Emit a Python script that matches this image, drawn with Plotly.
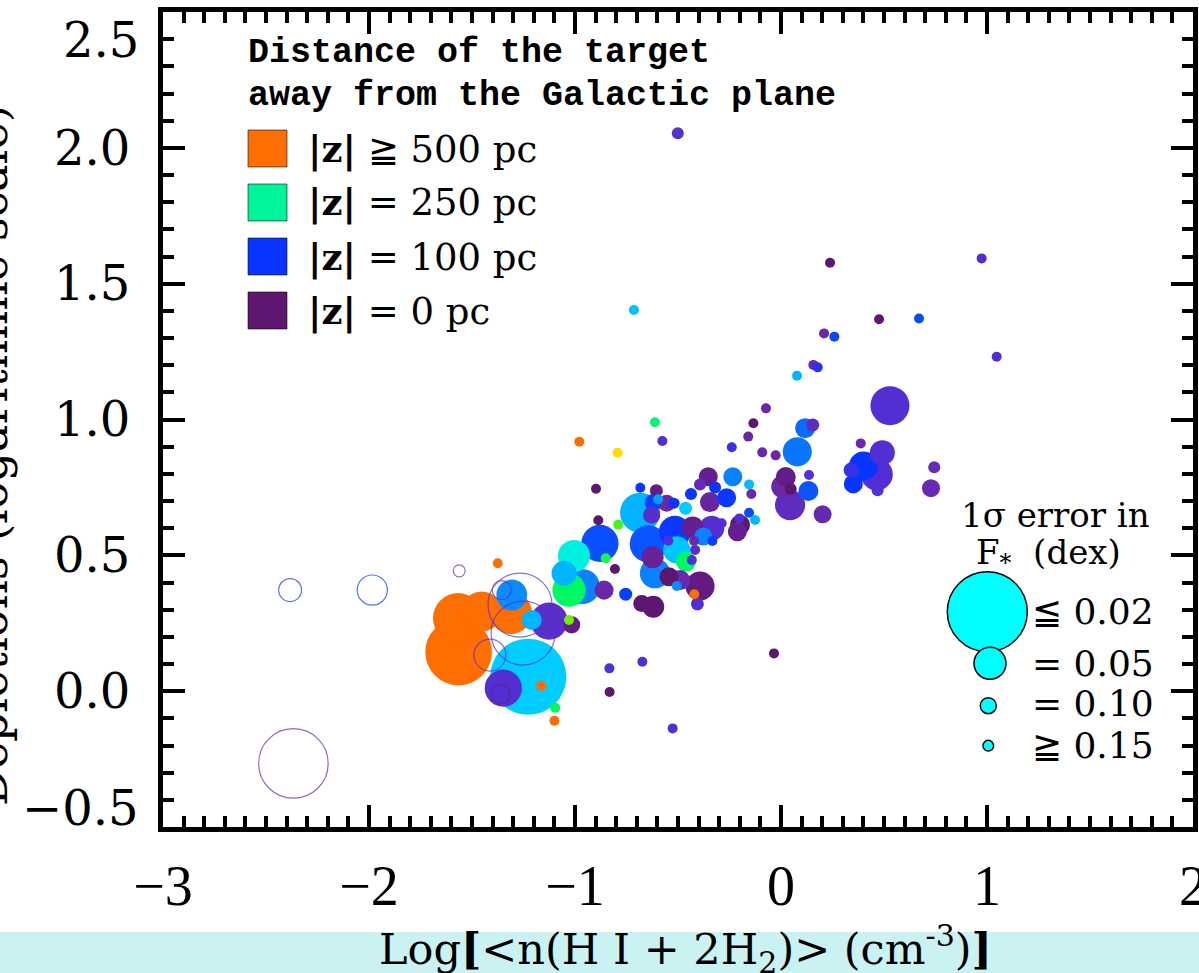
import numpy as np
import plotly.graph_objects as go

# ---------------- data ----------------
# filled symbols: log n(H), depletion, |z| (pc), 1-sigma error of F* (dex)
log_n = [-1.565, -1.568, -1.453, -1.311, -1.307, -1.210, -1.126, -1.016, -1.029, -1.227,
         -1.348, -1.164, -1.096, -1.100, -1.375, -0.833, -0.832, -0.673, -0.526, -0.034,
         -1.005, -1.053, -1.029, -0.963, -0.859, -0.754, -0.851, -0.806, -0.879, -0.887,
         -0.790, -0.898, -0.683, -0.605, -0.684, -0.620, -0.596, -0.628, -0.644, -0.612,
         -0.623, -0.676, -0.620, -0.515, -0.506, -0.547, -0.555, -0.519, -0.463, -0.437,
         -0.393, -0.353, -0.345, -0.320, -0.264, -0.234, -0.155, -0.144, -0.429, -0.377,
         -0.336, -0.333, -0.288, -0.422, -0.417, -0.461, -0.433, -0.544, -0.490, -0.506,
         -0.393, -0.421, -0.406, -0.199, -0.212, -0.202, -0.155, -0.126, 0.008, 0.047,
         0.044, 0.023, -0.239, -0.091, -0.026, 0.079, -0.073, -0.134, -0.159, 0.117,
         0.154, 0.136, 0.133, 0.202, -0.576, -0.793, -0.979, -0.612, -0.714, -0.501,
         0.078, 0.157, 0.178, 0.209, 0.259, 0.238, 0.476, 0.670, 0.974, 1.047,
         0.529, 0.387, 0.492, 0.400, 0.465, 0.340, 0.351, 0.469, 0.744, 0.728]
depletion = [0.144, 0.269, 0.293, 0.288, 0.354, 0.262, 0.258, 0.244, 0.262, 0.053,
             0.011, 0.019, -0.061, -0.109, 0.471, 0.084, -0.003, 0.108, -0.137, 0.139,
             0.498, 0.434, 0.372, 0.385, 0.372, 0.357, 0.489, 0.450, 0.544, 0.629,
             0.613, 0.745, 0.749, 0.738, 0.657, 0.694, 0.706, 0.648, 0.542, 0.434,
             0.493, 0.323, 0.311, 0.587, 0.520, 0.554, 0.692, 0.692, 0.673, 0.726,
             0.761, 0.789, 0.696, 0.750, 0.712, 0.789, 0.761, 0.726, 0.603, 0.569,
             0.600, 0.553, 0.618, 0.553, 0.520, 0.477, 0.483, 0.421, 0.409, 0.387,
             0.387, 0.357, 0.321, 0.612, 0.587, 0.636, 0.657, 0.630, 0.753, 0.744,
             0.685, 0.788, 0.898, 0.879, 0.868, 0.881, 1.041, 0.986, 0.937, 0.968,
             0.980, 0.796, 0.737, 0.651, 0.921, 0.878, 0.918, 0.990, 1.403, 2.054,
             1.161, 1.201, 1.192, 1.317, 1.305, 1.577, 1.369, 1.372, 1.593, 1.231,
             1.051, 0.912, 0.878, 0.829, 0.798, 0.814, 0.763, 0.740, 0.824, 0.747]
z_pc = [500, 500, 500, 500, 140, 160, 60, 20, 330, 180,
        70, 500, 280, 500, 500, 70, 0, 75, 70, 0,
        220, 160, 280, 135, 40, 105, 290, 0, 112, 0,
        310, 0, 100, 20, 160, 105, 150, 65, 115, 135,
        30, 0, 0, 102, 175, 70, 40, 100, 180, 100,
        50, 25, 35, 100, 102, 135, 165, 45, 25, 135,
        70, 105, 70, 45, 60, 280, 75, 0, 45, 140,
        15, 500, 70, 0, 25, 70, 110, 165, 40, 0,
        55, 20, 85, 40, 40, 130, 40, 0, 40, 125,
        55, 75, 115, 45, 70, 400, 500, 270, 170, 65,
        160, 45, 90, 40, 110, 0, 0, 110, 70, 70,
        70, 40, 70, 100, 70, 85, 100, 75, 50, 45]
sigma = [0.024, 0.032, 0.040, 0.038, 0.052, 0.080, 0.043, 0.094, 0.16, 0.021,
         0.043, 0.16, 0.16, 0.16, 0.16, 0.16, 0.16, 0.16, 0.16, 0.16,
         0.050, 0.064, 0.048, 0.046, 0.084, 0.123, 0.16, 0.16, 0.043, 0.16,
         0.16, 0.16, 0.16, 0.123, 0.040, 0.094, 0.16, 0.094, 0.043, 0.053,
         0.073, 0.094, 0.073, 0.050, 0.059, 0.16, 0.094, 0.145, 0.123, 0.133,
         0.133, 0.084, 0.080, 0.133, 0.084, 0.084, 0.16, 0.16, 0.073, 0.089,
         0.064, 0.16, 0.16, 0.16, 0.16, 0.080, 0.16, 0.084, 0.080, 0.16,
         0.055, 0.16, 0.123, 0.080, 0.084, 0.16, 0.16, 0.16, 0.070, 0.133,
         0.053, 0.080, 0.16, 0.16, 0.16, 0.055, 0.16, 0.16, 0.16, 0.080,
         0.123, 0.16, 0.080, 0.089, 0.16, 0.16, 0.16, 0.16, 0.16, 0.133,
         0.16, 0.16, 0.16, 0.16, 0.16, 0.16, 0.16, 0.16, 0.16, 0.16,
         0.041, 0.16, 0.064, 0.055, 0.050, 0.107, 0.084, 0.133, 0.133, 0.089]

# open symbols
open_log_n = [-2.383, -1.984, -2.367, -1.562, -1.267, -1.252, -1.356, -1.413, -1.361]
open_depletion = [0.372, 0.372, -0.266, 0.443, 0.317, 0.214, 0.372, 0.133, -0.010]
open_z_pc = [100, 100, 40, 40, 60, 60, 50, 60, 20]
open_sigma = [0.070, 0.053, 0.023, 0.133, 0.025, 0.025, 0.084, 0.050, 0.084]

x_ticks = [-3, -2, -1, 0, 1, 2]
x_ticktext = ["\u22123", "\u22122", "\u22121", "0", "1", "2"]
y_ticks = [0.0, 0.5, 1.0, 1.5, 2.0]
y_ticktext = ["0.0", "0.5", "1.0", "1.5", "2.0"]

z_legend_vals = [500, 250, 100, 0]
z_legend_text = ["<b>|z|</b> \u2267 500 pc", "<b>|z|</b> = 250 pc",
                 "<b>|z|</b> = 100 pc", "<b>|z|</b> = 0 pc"]
err_legend_vals = [0.02, 0.05, 0.10, 0.15]
err_legend_text = ["\u2266 0.02", "= 0.05", "= 0.10", "\u2267 0.15"]

# ---------------- style ----------------
W, H = 1199, 973
ML, MR, MT, MB = 163, 6, 12, 146
PW, PH = W - ML - MR, H - MT - MB


def fx(px):
    return (px - ML) / PW


def fy(py):
    return (H - MB - py) / PH


colorscale = [
    [0.00, "#5c1870"], [0.04, "#641c88"], [0.08, "#6a28a8"], [0.12, "#5a2ec8"],
    [0.15, "#5030d8"], [0.17, "#3a30e8"], [0.20, "#0a34ff"], [0.24, "#0a60ff"],
    [0.28, "#0a8cff"], [0.32, "#00b4ff"], [0.36, "#00ccff"], [0.44, "#00f0e0"],
    [0.50, "#00f59b"], [0.56, "#00f864"], [0.64, "#60f000"], [0.80, "#ffdc00"],
    [1.00, "#ff6e00"],
]
legend_square_colors = ["#ff6e00", "#00f59b", "#0a34ff", "#5e1770"]


def marker_size(err):
    return 1.6 / np.clip(np.asarray(err, dtype=float), 0.02, 0.16)


sizes = marker_size(sigma)
order = np.argsort(-sizes, kind="stable")

fig = go.Figure()
fig.add_trace(go.Scatter(
    x=np.asarray(log_n)[order], y=np.asarray(depletion)[order], mode="markers",
    marker=dict(size=sizes[order], color=np.asarray(z_pc)[order], colorscale=colorscale,
                cmin=0, cmax=500, line=dict(width=0), opacity=1),
    showlegend=False, hoverinfo="x+y"))
fig.add_trace(go.Scatter(
    x=open_log_n, y=open_depletion, mode="markers",
    marker=dict(size=marker_size(open_sigma), color=open_z_pc, colorscale=colorscale,
                cmin=0, cmax=500, symbol="circle-open", line=dict(width=1.2)),
    showlegend=False, hoverinfo="x+y"))

shapes = []
annotations = []

# bottom banner
shapes.append(dict(type="rect", xref="paper", yref="paper", x0=fx(0), x1=fx(W),
                   y0=fy(H), y1=fy(932), fillcolor="#cbf2f2", line=dict(width=0),
                   layer="below"))

# z legend
annotations.append(dict(xref="paper", yref="paper", x=fx(246), y=fy(53), xanchor="left",
                        yanchor="middle", showarrow=False,
                        text="<b>Distance of the target</b>",
                        font=dict(family="Liberation Mono", size=35, color="black")))
annotations.append(dict(xref="paper", yref="paper", x=fx(246), y=fy(96), xanchor="left",
                        yanchor="middle", showarrow=False,
                        text="<b>away from the Galactic plane</b>",
                        font=dict(family="Liberation Mono", size=35, color="black")))
row_top = [130, 184, 238, 292]
for top, col, txt in zip(row_top, legend_square_colors, z_legend_text):
    shapes.append(dict(type="rect", xref="paper", yref="paper", x0=fx(248), x1=fx(287),
                       y0=fy(top + 37), y1=fy(top), fillcolor=col,
                       line=dict(width=1, color="rgba(0,0,0,0.55)")))
    annotations.append(dict(xref="paper", yref="paper", x=fx(306), y=fy(top + 19),
                            xanchor="left", yanchor="middle", showarrow=False, text=txt,
                            font=dict(family="DejaVu Serif", size=37, color="black")))

# error legend
annotations.append(dict(xref="paper", yref="paper", x=fx(1055), y=fy(515), xanchor="center",
                        yanchor="middle", showarrow=False, text="1\u03c3 error in",
                        font=dict(family="DejaVu Serif", size=34, color="black")))
annotations.append(dict(xref="paper", yref="paper", x=fx(1048), y=fy(555), xanchor="center",
                        yanchor="middle", showarrow=False, text="F<sub>*</sub>  (dex)",
                        font=dict(family="DejaVu Serif", size=34, color="black")))
circ_cy = [611.7, 663.3, 705.7, 745.7]
circ_cx = [987.3, 990, 988.3, 988.3]
text_cy = [611, 663, 703, 745]
for cx, cy, ty, ev, et in zip(circ_cx, circ_cy, text_cy, err_legend_vals, err_legend_text):
    r = float(marker_size([ev])[0]) / 2
    shapes.append(dict(type="circle", xref="paper", yref="paper", xsizemode="pixel",
                       ysizemode="pixel", xanchor=fx(cx), yanchor=fy(cy),
                       x0=-r, x1=r, y0=-r, y1=r, fillcolor="#00ffff",
                       line=dict(color="black", width=1.5)))
    annotations.append(dict(xref="paper", yref="paper", x=fx(1030), y=fy(ty), xanchor="left",
                            yanchor="middle", showarrow=False, text=et,
                            font=dict(family="DejaVu Serif", size=36, color="black")))

# end tick labels of y axis (shifted inward as in the original)
annotations.append(dict(xref="paper", yref="paper", x=fx(141), y=fy(40), xanchor="right",
                        yanchor="middle", showarrow=False, text="2.5",
                        font=dict(family="DejaVu Serif", size=48, color="black")))
annotations.append(dict(xref="paper", yref="paper", x=fx(141), y=fy(808), xanchor="right",
                        yanchor="middle", showarrow=False, text="\u22120.5",
                        font=dict(family="DejaVu Serif", size=48, color="black")))

# axis titles
annotations.append(dict(xref="paper", yref="paper", x=fx(685), y=fy(949), xanchor="center",
                        yanchor="middle", showarrow=False,
                        text="Log<b>[</b>&lt;n(H I + 2H<sub>2</sub>)&gt; (cm<sup>-3</sup>)<b>]</b>",
                        font=dict(family="DejaVu Serif", size=43, color="black")))
annotations.append(dict(xref="paper", yref="paper", x=fx(-9), y=fy(455), xanchor="center",
                        yanchor="middle", showarrow=False, textangle=-90,
                        text="Depletions (logarithmic scale)",
                        font=dict(family="DejaVu Serif", size=46, color="black")))

axis_common = dict(showgrid=False, zeroline=False, showline=True, linewidth=5,
                   linecolor="black", mirror="ticks", ticks="inside", ticklen=22,
                   tickwidth=4, tickcolor="black", automargin=False,
                   minor=dict(ticks="inside", ticklen=11, tickwidth=4, tickcolor="black",
                              dtick=0.1, showgrid=False))

fig.update_layout(
    width=W, height=H, margin=dict(l=ML, r=MR, t=MT, b=MB, pad=0, autoexpand=False),
    paper_bgcolor="white", plot_bgcolor="white",
    xaxis=dict(range=[-3, 2], tickmode="array", tickvals=x_ticks, ticktext=x_ticktext,
               tickfont=dict(family="Liberation Serif", size=56, color="black"),
               ticklabelstandoff=6, ticklabeloverflow="allow", **axis_common),
    yaxis=dict(range=[-0.5, 2.5], tickmode="array", tickvals=y_ticks, ticktext=y_ticktext,
               tickfont=dict(family="DejaVu Serif", size=48, color="black"),
               ticklabelstandoff=18, **axis_common),
    shapes=shapes, annotations=annotations, showlegend=False,
)

fig.write_html("out.html")
